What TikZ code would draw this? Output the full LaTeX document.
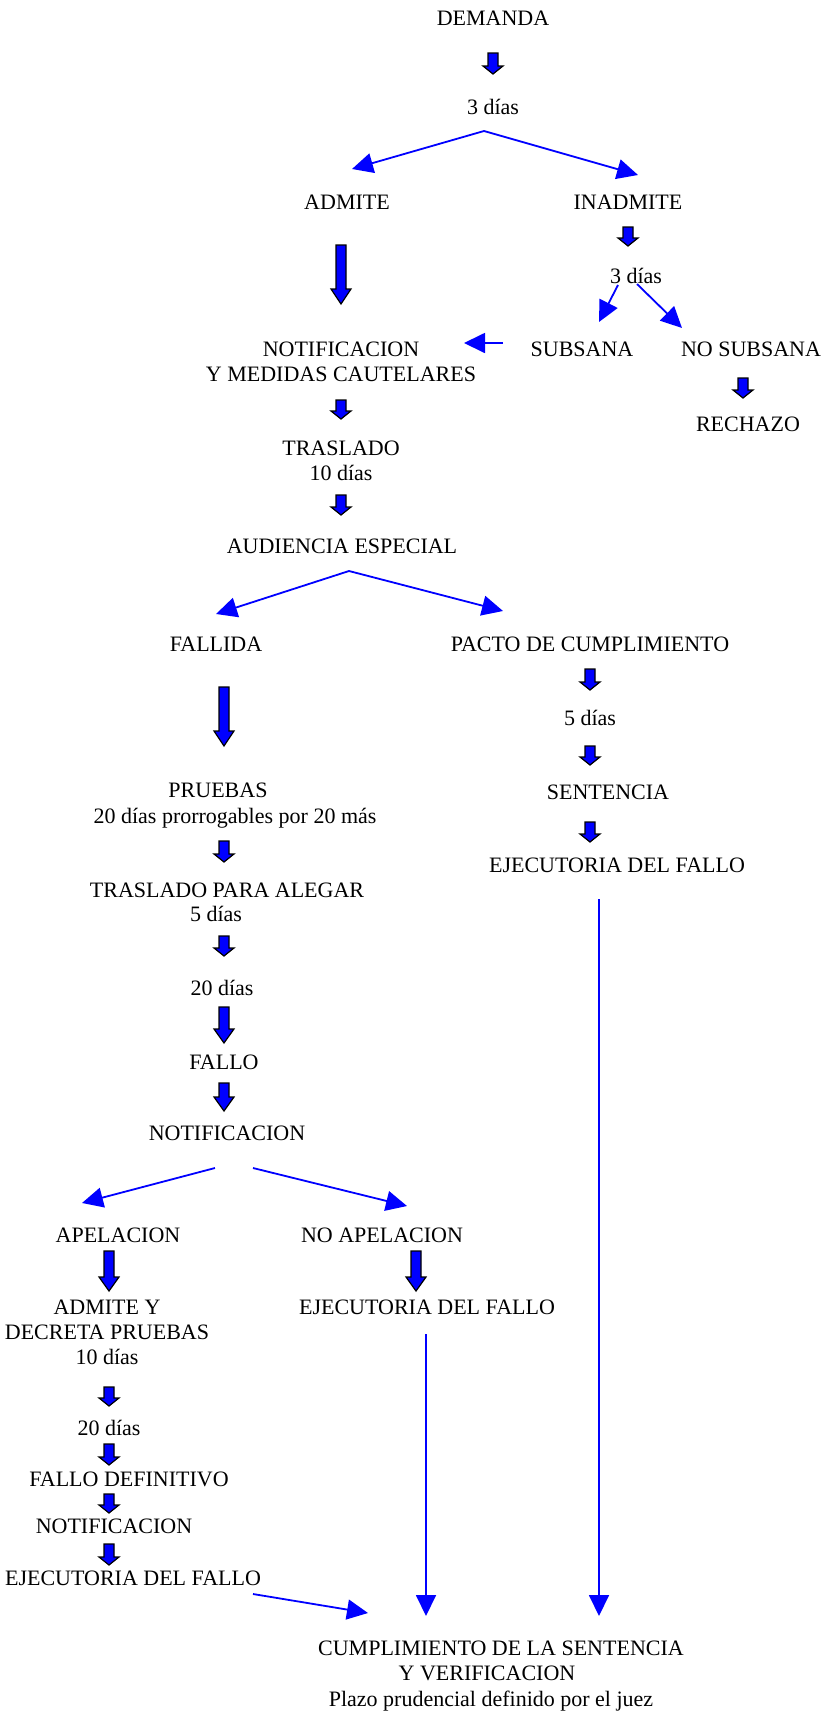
\documentclass[tikz,border=0pt]{standalone}
\usepackage{fontspec}
\setmainfont{Liberation Serif}
\usetikzlibrary{arrows.meta}

% block arrow: x, top, bottom, head length
\newcommand{\bloque}[4]{%
  \filldraw[fill=blue,draw=black,line width=1.2pt,line join=miter]
    (#1-5,#2) -- (#1+5,#2) -- (#1+5,#3-#4) -- (#1+10,#3-#4) -- (#1,#3)
    -- (#1-10,#3-#4) -- (#1-5,#3-#4) -- cycle;}

\tikzset{
  txt/.style={anchor=base,inner sep=0pt,align=center,font=\fontsize{22}{25}\selectfont},
  flecha/.style={blue,line width=1.8pt,-{Triangle[length=21pt,width=20pt]}}
}

\begin{document}
\begin{tikzpicture}[x=1pt,y=-1pt]
    \fill[white] (0,0) rectangle (821,1711);
    \useasboundingbox (0,0) rectangle (821,1711);

    % Texts (multi-line nodes sit on their last line)
    \node[txt] (demanda) at (493,25) {DEMANDA};
    \node[txt] (tresA) at (493,114) {3 días};
    \node[txt] (admite) at (347,209) {ADMITE};
    \node[txt] (inadmite) at (628,209) {INADMITE};
    \node[txt] (tresB) at (636,283) {3 días};
    \node[txt] (subsana) at (582,356) {SUBSANA};
    \node[txt] (nosubsana) at (751,356) {NO SUBSANA};
    \node[txt] (rechazo) at (748,431) {RECHAZO};
    \node[txt] (notif) at (341,381) {NOTIFICACION\\Y MEDIDAS CAUTELARES};
    \node[txt] (traslado) at (341,480) {TRASLADO\\10 días};
    \node[txt] (audiencia) at (342,553) {AUDIENCIA ESPECIAL};
    \node[txt] (fallida) at (216,651) {FALLIDA};
    \node[txt] (pacto) at (590,651) {PACTO DE CUMPLIMIENTO};
    \node[txt] (cinco) at (590,725) {5 días};
    \node[txt] (sentencia) at (608,799) {SENTENCIA};
    \node[txt] (ejecA) at (617,872) {EJECUTORIA DEL FALLO};
    \node[txt] (pruebas) at (218,797) {PRUEBAS};
    \node[txt] (prorrog) at (235,823) {20 días prorrogables por 20 más};
    \node[txt] (alegar) at (227,897) {TRASLADO PARA ALEGAR};
    \node[txt] (cincoB) at (216,921) {5 días};
    \node[txt] (veinte) at (222,995) {20 días};
    \node[txt] (fallo) at (224,1069) {FALLO};
    \node[txt] (notifB) at (227,1140) {NOTIFICACION};
    \node[txt] (apelacion) at (118,1242) {APELACION};
    \node[txt] (noapel) at (382,1242) {NO APELACION};
    \node[txt] (admiteY) at (107,1364) {ADMITE Y\\DECRETA PRUEBAS\\10 días};
    \node[txt] (ejecB) at (427,1314) {EJECUTORIA DEL FALLO};
    \node[txt] (veinteB) at (109,1435) {20 días};
    \node[txt] (definitivo) at (129,1486) {FALLO DEFINITIVO};
    \node[txt] (notifC) at (114,1533) {NOTIFICACION};
    \node[txt] (ejecC) at (133,1585) {EJECUTORIA DEL FALLO};
    \node[txt] (cumpl) at (501,1655) {CUMPLIMIENTO DE LA SENTENCIA};
    \node[txt] (verif) at (487,1680) {Y VERIFICACION};
    \node[txt] (plazo) at (491,1706) {Plazo prudencial definido por el juez};

    % Block arrows
    \bloque{493}{53}{74}{8}
    \bloque{341}{245}{304}{15}
    \bloque{628}{227}{246}{8}
    \bloque{743}{378}{398}{8}
    \bloque{341}{400}{419}{8}
    \bloque{341}{495}{515}{8}
    \bloque{224}{687}{746}{15}
    \foreach \ya/\yb in {669/690,746/765,822/842}
        {\bloque{590}{\ya}{\yb}{8}}
    \bloque{224}{841}{862}{8}
    \bloque{224}{936}{956}{8}
    \bloque{224}{1007}{1043}{14}
    \bloque{224}{1083}{1111}{14}
    \bloque{109}{1251}{1291}{14}
    \bloque{416}{1251}{1291}{14}
    \foreach \ya/\yb in {1387/1406,1444/1465,1494/1513,1544/1565}
        {\bloque{109}{\ya}{\yb}{8}}

    % Branch points and ends
    \coordinate (r1) at (484,131);
    \coordinate (r1a) at (352,169);
    \coordinate (r1b) at (638,175);
    \coordinate (r2a) at (618,285);
    \coordinate (r2b) at (637,284);
    \coordinate (s2a) at (599,322);
    \coordinate (s2b) at (682,328);
    \coordinate (r3) at (503,343);
    \coordinate (s3) at (464,343);
    \coordinate (r4) at (349,571);
    \coordinate (s4a) at (216,614);
    \coordinate (s4b) at (503,611);
    \coordinate (r5a) at (215,1168);
    \coordinate (r5b) at (253,1168);
    \coordinate (s5a) at (82,1203);
    \coordinate (s5b) at (407,1206);
    \coordinate (r6) at (599,899);
    \coordinate (s6) at (599,1616);
    \coordinate (r7) at (426,1334);
    \coordinate (s7) at (426,1616);
    \coordinate (r8) at (253,1594);
    \coordinate (s8) at (368,1613);

    % Thin arrows
    \draw[flecha] (r1) -- (r1a);
    \draw[flecha] (r1) -- (r1b);
    \draw[flecha] (r2a) -- (s2a);
    \draw[flecha] (r2b) -- (s2b);
    \draw[flecha] (r3) -- (s3);
    \draw[flecha] (r4) -- (s4a);
    \draw[flecha] (r4) -- (s4b);
    \draw[flecha] (r5a) -- (s5a);
    \draw[flecha] (r5b) -- (s5b);
    \draw[flecha] (r6) -- (s6);
    \draw[flecha] (r7) -- (s7);
    \draw[flecha] (r8) -- (s8);
\end{tikzpicture}
\end{document}
